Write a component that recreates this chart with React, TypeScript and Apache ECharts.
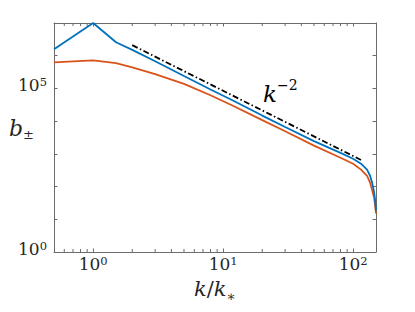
import React, { useEffect, useRef } from 'react';
import * as echarts from 'echarts';

// wavenumber k/k*
const kValues = [0.5, 1, 1.5, 2, 3, 5, 8, 12, 20, 30, 50, 80, 100, 115, 128, 135, 140, 145, 147.5, 150];
// b+ (blue)
const bPlus = [1.58e6, 1.0e7, 2.57e6, 1.51e6, 6.8e5, 2.4e5, 9.3e4, 4.2e4, 1.48e4, 6.6e3, 2.45e3, 1.07e3, 710, 500, 330, 214, 132, 69, 40, 18];
// b- (red)
const bMinus = [6.3e5, 7.2e5, 5.9e5, 4.4e5, 2.75e5, 1.38e5, 6.2e4, 2.9e4, 1.07e4, 4.9e3, 1.78e3, 760, 500, 330, 214, 132, 79, 46, 28, 15];
// k^-2 reference line
const refK = [2, 115];
const refValues = [2.1e6, 650];
// axes
const xRange = [0.5, 150];
const yRange = [1, 1e7];
const yLabeled = [0, 5];
const xMinorTicks = [0.6, 0.7, 0.8, 0.9, 2, 3, 4, 5, 6, 7, 8, 9, 20, 30, 40, 50, 60, 70, 80, 90];

const AXIS_COLOR = '#6b6b6b';
const TEXT_COLOR = '#262626';
const SERIF = 'DejaVu Serif';

function expOf(v: number): number | null {
  const l = Math.log10(v);
  const r = Math.round(l);
  return Math.abs(l - r) < 1e-6 ? r : null;
}

export default function App() {
  const ref = useRef<HTMLDivElement>(null);
  useEffect(() => {
    if (!ref.current) return;
    const chart = echarts.init(ref.current, null, { renderer: 'svg' });
    const richTick = {
      b: { fontFamily: SERIF, fontSize: 17, lineHeight: 24, color: TEXT_COLOR, verticalAlign: 'top' },
      s: { fontFamily: SERIF, fontSize: 11.5, lineHeight: 12, color: TEXT_COLOR, verticalAlign: 'top' },
    };
    const axisCommon = {
      type: 'log',
      logBase: 10,
      axisLine: { show: true, lineStyle: { color: AXIS_COLOR, width: 1 } },
      axisTick: { show: true, inside: true, length: 3.5, lineStyle: { color: AXIS_COLOR, width: 1 } },
      splitLine: { show: false },
      minorTick: { show: false },
    };
    const option: any = {
      animation: false,
      backgroundColor: '#ffffff',
      grid: { left: 54, top: 23, width: 322, height: 229, containLabel: false },
      xAxis: [
        {
          ...axisCommon, position: 'bottom', min: xRange[0], max: xRange[1],
          axisLabel: {
            show: true, margin: 3,
            formatter: (v: number) => { const e = expOf(v); return e === null ? '' : `{b|10}{s|${e}}`; },
            rich: richTick,
          },
        },
        { ...axisCommon, position: 'top', min: xRange[0], max: xRange[1], axisLabel: { show: false } },
      ],
      yAxis: [
        {
          ...axisCommon, position: 'left', min: yRange[0], max: yRange[1],
          axisLabel: {
            show: true, margin: 7,
            formatter: (v: number) => { const e = expOf(v); return e !== null && yLabeled.includes(e) ? `{b|10}{s|${e}}` : ''; },
            rich: richTick,
          },
        },
        { ...axisCommon, position: 'right', min: yRange[0], max: yRange[1], axisLabel: { show: false } },
      ],
      series: [
        { type: 'line', name: 'b-', data: kValues.map((k, i) => [k, bMinus[i]]), showSymbol: false, symbol: 'none', lineStyle: { color: '#D95319', width: 1.8 }, z: 2 },
        { type: 'line', name: 'b+', data: kValues.map((k, i) => [k, bPlus[i]]), showSymbol: false, symbol: 'none', lineStyle: { color: '#0072BD', width: 1.8 }, z: 3 },
        { type: 'line', name: 'k^-2', data: refK.map((k, i) => [k, refValues[i]]), showSymbol: false, symbol: 'none', lineStyle: { color: '#000000', width: 1.8, type: [6, 2.5, 1.5, 2.5] }, z: 4 },
        {
          type: 'custom', name: 'minorTicks', silent: true, z: 5,
          data: xMinorTicks.map((k) => [k, 1]),
          renderItem: (params: any, api: any) => {
            const cs = params.coordSys;
            const x = api.coord([api.value(0), yRange[0]])[0];
            const st = { stroke: AXIS_COLOR, lineWidth: 1 };
            return {
              type: 'group',
              children: [
                { type: 'line', shape: { x1: x, y1: cs.y + cs.height, x2: x, y2: cs.y + cs.height - 3 }, style: st },
                { type: 'line', shape: { x1: x, y1: cs.y, x2: x, y2: cs.y + 3 }, style: st },
              ],
            };
          },
        },
      ],
      graphic: [
        {
          type: 'text', x: 263, y: 78,
          style: {
            text: '{k|k}{s|−2}',
            rich: {
              k: { fontFamily: SERIF, fontStyle: 'italic', fontSize: 23, lineHeight: 27, fill: '#000', verticalAlign: 'bottom' },
              s: { fontFamily: SERIF, fontSize: 14, lineHeight: 14, fill: '#000', verticalAlign: 'top' },
            },
          },
        },
        {
          type: 'text', x: 215, y: 278,
          style: {
            text: '{i|k}{n|/}{i|k}{s|∗}', align: 'center',
            rich: {
              i: { fontFamily: SERIF, fontStyle: 'italic', fontSize: 21, lineHeight: 25, fill: TEXT_COLOR, verticalAlign: 'top' },
              n: { fontFamily: SERIF, fontSize: 21, lineHeight: 25, fill: TEXT_COLOR, verticalAlign: 'top' },
              s: { fontFamily: SERIF, fontSize: 14, lineHeight: 14, fill: TEXT_COLOR, verticalAlign: 'bottom' },
            },
          },
        },
        {
          type: 'text', x: 9, y: 117,
          style: {
            text: '{i|b}{s|±}',
            rich: {
              i: { fontFamily: SERIF, fontStyle: 'italic', fontSize: 22, lineHeight: 24, fill: TEXT_COLOR, verticalAlign: 'top' },
              s: { fontFamily: SERIF, fontSize: 13, lineHeight: 13, fill: TEXT_COLOR, verticalAlign: 'bottom' },
            },
          },
        },
      ],
    };
    chart.setOption(option);
    return () => chart.dispose();
  }, []);
  return <div ref={ref} style={{ position: 'absolute', left: 0, top: 0, width: 415, height: 312, background: '#fff' }} />;
}
